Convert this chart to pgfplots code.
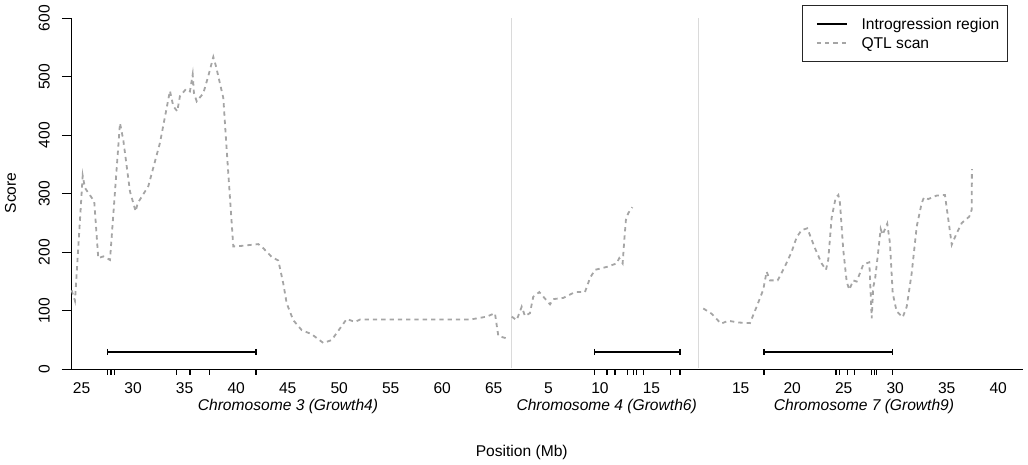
\documentclass[border=0pt]{standalone}
\usepackage{fontspec}
\setmainfont{Liberation Sans}
\usepackage{pgfplots}
\usepackage{pgfplotstable}
\pgfplotsset{compat=1.18}
\definecolor{qtlgray}{RGB}{165,165,165}
\definecolor{sepgray}{RGB}{218,218,218}

% QTL scan, positions in Mb on each chromosome
\pgfplotstableread{
x y
24.03 135
24.35 117
25.10 331
25.32 310
26.22 287
26.61 190
27.10 193
27.75 187
28.72 421
29.04 392
29.69 304
30.24 270
30.44 284
31.47 313
32.60 387
33.57 476
33.89 450
34.28 441
34.54 467
35.13 479
35.51 475
35.78 504
35.90 472
36.17 458
36.81 472
37.29 501
37.78 534
38.04 518
38.75 464
39.08 375
39.72 210
40.53 211
42.15 214
42.63 207
43.45 192
44.09 186
44.57 147
44.90 113
45.54 84
46.36 67
47.33 60
48.46 45
49.27 50
50.08 70
50.73 86
51.53 81
52.02 85
62.70 85
64.32 90
65.12 96
65.45 57
66.42 52
}\chrthree

\pgfplotstableread{
x y
1.43 90
1.91 84
2.40 107
2.72 91
3.20 96
3.52 124
4.11 132
5.15 111
5.47 120
6.44 122
7.57 132
8.54 132
9.03 156
9.51 170
10.65 175
11.62 181
11.87 190
12.20 181
12.36 221
12.52 256
12.75 267
13.14 277
}\chrfour

\pgfplotstableread{
x y
11.37 104
12.18 95
13.09 78
13.80 83
14.77 80
15.90 79
16.55 107
17.19 136
17.52 167
17.84 152
18.59 152
19.30 176
19.95 201
20.44 226
20.92 238
21.47 241
22.21 207
22.86 181
23.28 170
23.50 187
23.83 259
24.22 293
24.48 298
24.64 284
24.96 204
25.29 150
25.54 136
25.93 152
26.26 150
26.90 179
27.49 183
27.72 87
27.87 141
28.04 153
28.30 193
28.59 240
28.78 230
29.23 249
29.49 216
29.76 130
30.14 99
30.73 89
31.12 107
31.60 164
32.09 244
32.57 284
32.80 294
33.21 291
34.03 297
34.83 298
35.16 256
35.49 213
35.98 233
36.46 250
37.19 261
37.43 273
37.45 342
}\chrseven

% marker positions (rug below the axis)
\pgfplotstableread{
x y
27.49 -5.14
27.84 -5.14
28.20 -5.14
34.22 -5.14
35.51 -5.14
37.39 -5.14
41.92 -5.14
}\rugthree
\pgfplotstableread{
x y
9.45 -5.14
10.68 -5.14
11.46 -5.14
12.69 -5.14
13.23 -5.14
13.56 -5.14
14.20 -5.14
16.86 -5.14
17.77 -5.14
}\rugfour
\pgfplotstableread{
x y
17.26 -5.14
24.25 -5.14
24.59 -5.14
25.37 -5.14
26.03 -5.14
27.72 -5.14
27.97 -5.14
28.20 -5.14
29.74 -5.14
}\rugseven

\begin{document}%
\begin{tikzpicture}[font=\fontsize{15.6}{18.7}\selectfont]
\useasboundingbox (-62pt,-94.7pt) rectangle (966pt,369.3pt);
\begin{axis}[
  scale only axis, width=961pt, height=351pt,
  xmin=23.09, xmax=116.39, ymin=0, ymax=600,
  axis x line=bottom, axis y line=left,
  axis line style={draw=none},
  clip=false,
  tick align=inside,
  major tick length=10pt,
  ytick={0,100,200,300,400,500,600},
  ytick style={black, line width=1.2pt},
  xtick style={draw=none},
  xtick={25,30,35,40,45,50,55,60,65,70.32,75.32,80.32,88.98,93.98,98.98,103.98,108.98,113.98},
  xticklabels={25,30,35,40,45,50,55,60,65,5,10,15,15,20,25,30,35,40},
  xticklabel style={anchor=base, inner sep=0pt, yshift=-24pt},
  yticklabel style={xshift=-12pt, rotate=90, anchor=south, inner sep=0pt},
  /pgf/number format/assume math mode=true,
  legend cell align=left,
  legend style={at={(0.9841,1.0388)}, anchor=north east, draw=black!85,
    line width=1.2pt, inner xsep=7.7pt, inner ysep=9.6pt, row sep=0pt,
    column sep=0pt, nodes={inner sep=0pt, text height=11pt, text depth=0pt},
    font=\fontsize{15.6}{18.7}\selectfont},
  legend image code/.code={\path[draw=none, fill=none] (0pt,-9.3pt) rectangle (51pt,9.3pt);
    \draw[#1] (6.3pt,0pt) -- (36.3pt,0pt);},
]
\addlegendimage{black, line width=2pt}
\addlegendentry{Introgression region}
\addlegendimage{qtlgray, line width=1.8pt, dash pattern=on 4.3pt off 4pt}
\addlegendentry{QTL scan}

% chromosome boundaries
\addplot[forget plot, sepgray, line width=1.5pt] coordinates {(66.73,2) (66.73,600)};
\addplot[forget plot, sepgray, line width=1.5pt] coordinates {(84.89,2) (84.89,600)};

% axis lines
\draw[black, line width=1.2pt] (axis cs:23.09,0) -- (axis cs:116.39,0);
\draw[black, line width=1.2pt] (axis cs:24.03,0) -- (axis cs:24.03,600);

% QTL scans
\addplot[forget plot, qtlgray, line width=1.8pt, dash pattern=on 4.3pt off 4pt] table[x=x, y=y] {\chrthree};
\addplot[forget plot, qtlgray, line width=1.8pt, dash pattern=on 4.3pt off 4pt] table[x expr=\thisrow{x}+65.32, y=y] {\chrfour};
\addplot[forget plot, qtlgray, line width=1.8pt, dash pattern=on 4.3pt off 4pt] table[x expr=\thisrow{x}+73.98, y=y] {\chrseven};

% introgression regions
\addplot[forget plot, black, line width=2pt, mark=|, mark size=3pt, mark options={solid, line width=1.5pt}] coordinates {(27.49,30) (41.92,30)};
\addplot[forget plot, black, line width=2pt, mark=|, mark size=3pt, mark options={solid, line width=1.5pt}] coordinates {(74.77,30) (83.09,30)};
\addplot[forget plot, black, line width=2pt, mark=|, mark size=3pt, mark options={solid, line width=1.5pt}] coordinates {(91.24,30) (103.72,30)};

% marker rug
\addplot[forget plot, only marks, mark=|, mark size=3pt, mark options={black, line width=1.2pt}] table[x=x, y=y] {\rugthree};
\addplot[forget plot, only marks, mark=|, mark size=3pt, mark options={black, line width=1.2pt}] table[x expr=\thisrow{x}+65.32, y=y] {\rugfour};
\addplot[forget plot, only marks, mark=|, mark size=3pt, mark options={black, line width=1.2pt}] table[x expr=\thisrow{x}+73.98, y=y] {\rugseven};

% chromosome names and axis title
\node[anchor=base, yshift=-40.7pt] at (axis cs:45.03,0) {\itshape Chromosome 3 (Growth4)};
\node[anchor=base, yshift=-40.7pt] at (axis cs:75.97,0) {\itshape Chromosome 4 (Growth6)};
\node[anchor=base, yshift=-40.7pt] at (axis cs:100.95,0) {\itshape Chromosome 7 (Growth9)};
\node[anchor=base, yshift=-86.7pt] at (axis cs:67.72,0) {Position (Mb)};
\end{axis}
\node[rotate=90, anchor=base] at (-46pt,176.3pt) {Score};
\end{tikzpicture}%
\end{document}
